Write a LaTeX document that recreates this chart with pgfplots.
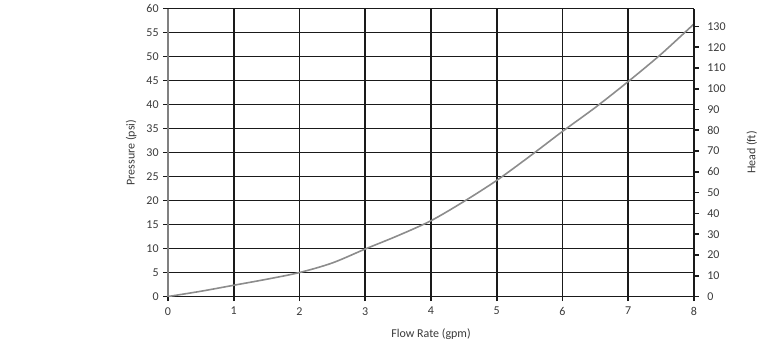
\documentclass[border=0pt]{standalone}
\usepackage{pgfplots}
\pgfplotsset{compat=1.18}
\usepackage{fontspec}
\setmainfont{Carlito}
\definecolor{gridc}{HTML}{1A1A1A}
\definecolor{curvec}{HTML}{8C8C8C}
\definecolor{textc}{HTML}{3A3A3A}
\begin{document}
\begin{tikzpicture}
\pgfplotsset{
  base/.style={
    width=394.5pt, height=216pt, scale only axis,
    at={(0,0)}, anchor=south west,
    xmin=0, xmax=8,
    tick align=outside,
    major tick length=3.5pt,
    tick style={line width=1.2pt, color=gridc},
    ticklabel style={font=\fontsize{9}{11}\selectfont, text=textc},
    label style={font=\fontsize{9}{11}\selectfont, text=textc},
    /pgf/number format/assume math mode=true,
  }
}
\begin{axis}[base,
  ymin=0, ymax=60,
  xtick={0,...,8}, ytick={0,5,...,60},
  grid=major,
  major grid style={line width=1.2pt, color=gridc},
  axis line style={line width=1.2pt, color=gridc},
  axis x line*=bottom, axis y line*=left,
  y axis line style={color=gray, line width=1.5pt},
  xlabel={Flow Rate (gpm)}, ylabel={Pressure (psi)},
  xlabel style={at={(axis description cs:0.5,-0.132)}, anchor=center},
  ylabel style={at={(axis description cs:-0.070,0.5)}, anchor=center, rotate=0},
  yticklabel style={xshift=0pt},
  xticklabel style={yshift=-1pt},
]
\addplot[color=curvec, line width=1.2pt, smooth] coordinates {
 (0,0) (0.5,1.1) (1,2.35) (1.5,3.6) (2,5) (2.5,7.0) (3,9.9) (3.5,12.7)
 (4,15.8) (4.5,19.8) (5,24.2) (5.5,29.2) (6,34.4) (6.5,39.4) (7,44.8)
 (7.5,50.5) (8,56.8)
};
\end{axis}
\begin{axis}[base,
  ymin=0, ymax=138.6,
  ytick={0,10,...,130},
  axis x line=none,
  axis y line*=right,
  axis line style={line width=1.2pt, color=gridc},
  ylabel={Head (ft)},
  ylabel style={at={(axis description cs:1.110,0.5)}, anchor=center},
  yticklabel style={xshift=3pt},
]
\end{axis}
\path[use as bounding box] (-126pt,-47.25pt) rectangle (460.5pt,220.5pt);
\end{tikzpicture}
\end{document}
